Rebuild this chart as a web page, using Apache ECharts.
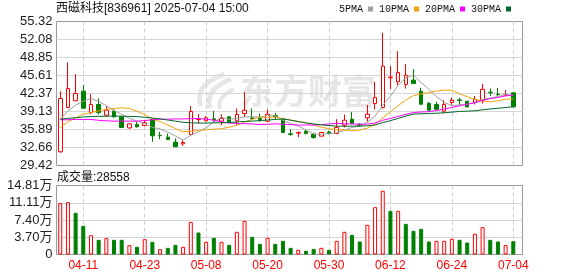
<!DOCTYPE html>
<html><head><meta charset="utf-8">
<script src="https://cdn.jsdelivr.net/npm/echarts@6/dist/echarts.min.js"></script>
<style>html,body{margin:0;padding:0;background:#fff}#c{width:578px;height:276px}</style>
</head><body><div id="c"></div>
<script>
// ---------- DATA ----------
const categories = ['04-08','04-09','04-10','04-11','04-14','04-15','04-16','04-17','04-18','04-21','04-22','04-23','04-24','04-25','04-28','04-29','04-30','05-06','05-07','05-08','05-09','05-12','05-13','05-14','05-15','05-16','05-19','05-20','05-21','05-22','05-23','05-26','05-27','05-28','05-29','05-30','06-03','06-04','06-05','06-06','06-09','06-10','06-11','06-12','06-13','06-16','06-17','06-18','06-19','06-20','06-23','06-24','06-25','06-26','06-27','06-30','07-01','07-02','07-03','07-04'];
const openP  = [31.88,39.85,41.05,42.79,38.95,40.39,38.47,39.19,38.17,36.19,36.79,36.61,37.69,34.85,34.52,33.62,33.32,34.99,37.70,37.45,37.81,37.39,38.17,37.45,38.77,38.00,37.93,37.39,38.41,37.87,35.12,35.24,35.59,35.06,34.70,35.45,35.18,36.67,37.75,36.85,38.00,40.57,39.85,45.20,44.47,44.00,44.77,42.79,40.57,40.39,39.19,40.75,41.22,40.99,40.80,41.17,42.60,42.25,42.10,42.49];
const closeP = [41.47,43.27,42.37,39.73,40.39,38.95,39.37,38.17,36.25,36.91,36.37,37.09,34.76,34.80,34.10,32.78,33.56,39.13,37.75,38.00,37.69,37.87,37.27,38.59,39.37,37.87,37.69,38.65,38.17,35.36,35.00,35.36,35.18,34.46,35.36,35.20,36.25,37.57,36.97,36.60,38.65,41.65,47.29,45.31,46.15,45.65,44.15,40.45,39.37,39.55,40.39,41.17,41.12,39.97,41.32,43.12,42.50,42.15,42.20,39.97];
const lowP   = [31.76,39.80,41.00,39.70,38.59,38.59,38.17,38.05,36.20,36.01,36.25,36.49,33.68,34.16,34.10,32.78,32.96,34.88,36.97,37.39,37.27,36.67,37.09,36.67,38.17,37.57,37.27,37.27,37.75,35.30,34.76,34.52,35.00,34.22,34.70,35.05,35.06,36.25,36.85,36.45,37.27,39.49,39.67,43.15,43.87,43.25,44.11,40.27,39.19,39.37,38.77,40.33,40.27,39.85,40.39,40.57,41.95,41.95,41.90,39.85];
const highP  = [42.79,47.94,45.85,43.87,42.25,41.47,40.09,39.49,38.29,36.97,37.27,37.57,37.87,35.47,35.17,34.28,33.92,40.09,38.65,38.29,39.25,38.65,38.29,39.67,42.67,39.67,38.77,39.49,38.89,37.93,35.95,35.53,35.89,35.30,35.42,35.70,37.75,38.59,39.03,37.00,40.30,44.45,53.30,47.29,50.00,47.66,46.76,43.39,40.87,40.87,41.17,41.65,41.58,40.99,41.93,44.06,43.28,43.39,42.98,42.49];
const volume = [110200,112300,89400,61500,41500,31500,35100,31500,31500,20000,16500,32900,27200,11400,14300,20700,16500,70000,47200,27200,35800,27200,20700,48700,72300,37900,22900,35800,22900,29300,14300,10000,7900,12200,14300,10000,29300,48700,42200,27900,63700,101600,136700,93700,93700,65800,50800,55100,27900,29300,29300,33600,31500,25800,44400,58700,31500,27900,20000,28558];
const ma5  = [37.69,39.25,40.27,40.99,41.45,40.94,40.16,39.32,38.63,37.93,37.41,36.96,36.28,35.99,35.42,34.71,34.00,34.87,35.46,36.24,37.23,38.09,37.72,37.88,38.16,38.19,38.16,38.43,38.35,37.55,36.97,36.51,35.81,35.07,35.07,35.11,35.29,35.77,36.27,36.52,37.21,38.29,40.23,41.90,43.81,45.20,45.69,44.33,43.14,41.82,40.77,40.19,40.31,40.43,40.77,41.31,41.58,41.80,42.25,41.98];
const ma10 = [36.25,37.27,37.99,38.65,38.95,39.25,39.49,39.67,39.79,39.69,39.18,38.56,37.80,37.31,36.68,36.06,35.48,35.58,35.73,35.83,35.97,36.04,36.30,36.67,37.20,37.71,38.12,38.08,38.12,37.85,37.58,37.33,37.12,36.71,36.31,36.04,35.90,35.79,35.67,35.80,36.16,36.79,38.00,39.09,40.16,41.21,41.99,42.28,42.52,42.81,42.99,42.94,42.32,41.78,41.30,41.04,40.88,41.05,41.34,41.38];
const ma20 = [37.65,37.65,37.70,37.70,37.70,37.55,37.45,37.40,37.40,37.40,37.40,37.50,37.65,37.75,37.75,37.80,37.80,37.85,37.85,37.76,37.57,37.30,37.05,36.99,36.94,36.89,36.80,36.83,36.92,36.84,36.78,36.69,36.71,36.69,36.76,36.88,37.01,36.93,36.89,36.82,36.87,37.06,37.56,37.90,38.24,38.62,38.95,39.04,39.10,39.30,39.57,39.86,40.16,40.43,40.73,41.12,41.44,41.67,41.93,42.10];
const ma30 = [37.75,37.90,38.00,38.15,38.20,38.25,38.30,38.30,38.30,38.25,38.20,38.10,37.95,37.80,37.60,37.40,37.20,37.10,37.05,37.05,37.10,37.10,37.15,37.25,37.35,37.40,37.50,37.60,37.70,37.79,37.58,37.31,37.07,36.90,36.73,36.60,36.50,36.48,36.50,36.49,36.57,36.72,37.14,37.49,37.89,38.32,38.67,38.72,38.77,38.82,38.91,39.02,39.15,39.19,39.26,39.43,39.59,39.71,39.84,40.00];
const priceTicks = ['29.42','32.66','35.89','39.13','42.37','45.61','48.85','52.08','55.32'];
const volumeTicks = ['0','3.70万','7.40万','11.11万','14.81万'];
const labelDates = ['04-11','04-23','05-08','05-20','05-30','06-12','06-24','07-04'];
const priceMin = 29.42, priceMax = 55.32, volumeMax = 148080;
const maNames = ['5PMA','10PMA','20PMA','30PMA'];
const titleText = '西磁科技[836961] 2025-07-04 15:00';

// ---------- STYLE ----------
const FONT = '"Liberation Sans", "Noto Sans CJK SC", sans-serif';
const UP = '#ff0000', DOWN = '#008000';
const maColors = ['#a0a0a0', '#f0a30a', '#ff00ff', '#00692c'];

const candleData = categories.map((_, i) => [openP[i], closeP[i], lowP[i], highP[i]]);
const volData = volume.map((v, i) => {
  const up = i === 0 ? closeP[i] >= openP[i] : closeP[i] >= closeP[i - 1];
  return { value: v, itemStyle: up ? { color: '#fff', borderColor: UP, borderWidth: 1 } : { color: DOWN, borderColor: DOWN, borderWidth: 1 } };
});
const showDate = (idx, val) => labelDates.indexOf(val) >= 0;

const frameL = 56.5, frameW = 466;
const dataL = 60.26, dataW = 453.04;
const mainTop = 21.5, mainH = 144, volTop = 185.5, volH = 69;

const chart = echarts.init(document.getElementById('c'), null, { renderer: 'canvas' });
const dataXAxis = (gi, labels) => ({
  type: 'category', gridIndex: gi, data: categories, boundaryGap: false,
  axisLine: { show: false }, axisTick: { show: false },
  axisLabel: { show: labels, interval: showDate, color: '#ff0000', fontFamily: FONT, fontSize: 12, margin: 5, hideOverlap: false },
  splitLine: { show: true, interval: showDate, lineStyle: { color: '#cfcfcf', type: [4, 3], width: 1 } }
});
const frameYAxis = (gi, maxV, ticks) => ({
  type: 'value', gridIndex: gi, min: 0, max: maxV, interval: 1,
  axisLine: { show: false }, axisTick: { show: false },
  axisLabel: { formatter: v => ticks[v], color: '#222', fontFamily: FONT, fontSize: 13, margin: 4 },
  splitLine: { show: true, showMinLine: false, showMaxLine: false, lineStyle: { color: '#d6d6d6', width: 1 } }
});

chart.setOption({
  animation: false,
  backgroundColor: '#fff',
  title: [
    { text: titleText, left: 56, top: 3, padding: 0, textStyle: { fontFamily: FONT, fontSize: 12, fontWeight: 'normal', color: '#111' } },
    { text: '成交量:' + volume[volume.length - 1], left: 57, top: 172, padding: 0, textStyle: { fontFamily: FONT, fontSize: 12, fontWeight: 'normal', color: '#111' } }
  ],
  legend: {
    data: maNames, left: 339, top: 4, padding: 0, itemGap: 6, itemWidth: 5, itemHeight: 5,
    icon: 'rect', align: 'right', selectedMode: false,
    textStyle: { fontFamily: '"Liberation Mono", monospace', fontSize: 10, color: '#111' }
  },
  graphic: [
    { type: 'text', x: 240, y: 74, z: 0, silent: true, style: { text: '东方财富', font: 'bold 34px "Noto Sans CJK SC"', fill: '#e6e6e6', verticalAlign: 'top' } },
    { type: 'bezierCurve', z: 0, silent: true, shape: { x1: 201, y1: 106, x2: 224, y2: 74, cpx1: 193, cpy1: 86 }, style: { stroke: '#e6e6e6', lineWidth: 5, fill: null } },
    { type: 'bezierCurve', z: 0, silent: true, shape: { x1: 210, y1: 108, x2: 231, y2: 79, cpx1: 204, cpy1: 90 }, style: { stroke: '#e6e6e6', lineWidth: 5, fill: null } },
    { type: 'bezierCurve', z: 0, silent: true, shape: { x1: 220, y1: 109, x2: 234, y2: 89, cpx1: 216, cpy1: 98 }, style: { stroke: '#e6e6e6', lineWidth: 4, fill: null } }
  ],
  grid: [
    { left: frameL, top: mainTop, width: frameW, height: mainH, show: true, borderColor: '#9a9a9a', borderWidth: 1, backgroundColor: 'transparent', outerBoundsMode: 'none', containLabel: false },
    { left: dataL, top: mainTop, width: dataW, height: mainH, outerBoundsMode: 'none', containLabel: false },
    { left: frameL, top: volTop, width: frameW, height: volH, show: true, borderColor: '#9a9a9a', borderWidth: 1, backgroundColor: 'transparent', outerBoundsMode: 'none', containLabel: false },
    { left: dataL, top: volTop, width: dataW, height: volH, outerBoundsMode: 'none', containLabel: false }
  ],
  xAxis: [
    { type: 'value', gridIndex: 0, min: 0, max: 1, show: false },
    dataXAxis(1, false),
    { type: 'value', gridIndex: 2, min: 0, max: 1, show: false },
    dataXAxis(3, true)
  ],
  yAxis: [
    frameYAxis(0, priceTicks.length - 1, priceTicks),
    { type: 'value', gridIndex: 1, min: priceMin, max: priceMax, show: false },
    frameYAxis(2, volumeTicks.length - 1, volumeTicks),
    { type: 'value', gridIndex: 3, min: 0, max: volumeMax, show: false }
  ],
  series: [
    {
      type: 'candlestick', name: 'K', xAxisIndex: 1, yAxisIndex: 1, data: candleData, barWidth: 4, clip: false, z: 2,
      itemStyle: { color: '#fff', color0: DOWN, borderColor: UP, borderColor0: DOWN, borderWidth: 1 }
    },
    ...[ma5, ma10, ma20, ma30].map((d, k) => ({
      type: 'line', name: maNames[k], xAxisIndex: 1, yAxisIndex: 1, data: d, symbol: 'none', showSymbol: false,
      color: maColors[k], itemStyle: { color: maColors[k] }, lineStyle: { color: maColors[k], width: 1 }, z: 3, silent: true
    })),
    { type: 'bar', name: 'VOL', xAxisIndex: 3, yAxisIndex: 3, data: volData, barWidth: 4, clip: false }
  ]
});
</script></body></html>
